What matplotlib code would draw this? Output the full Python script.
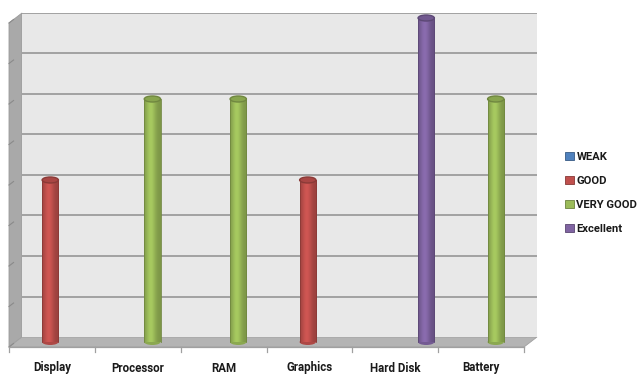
import matplotlib
matplotlib.use("Agg")
import matplotlib.pyplot as plt
import matplotlib.transforms as mtransforms
from matplotlib.patches import Polygon, Ellipse, Rectangle
import matplotlib.colors as mcolors
import numpy as np

categories = ["Display", "Processor", "RAM", "Graphics", "Hard Disk", "Battery"]
series_names = ["WEAK", "GOOD", "VERY GOOD", "Excellent"]
weak = [0, 0, 0, 0, 0, 0]
good = [4, 0, 0, 4, 0, 0]
very_good = [0, 6, 6, 0, 0, 6]
excellent = [0, 0, 0, 0, 8, 0]
series_values = [weak, good, very_good, excellent]
series_colors = ["#4F81BD", "#C0504D", "#9BBB59", "#8064A2"]

W, H = 640, 387
fig = plt.figure(figsize=(6.4, 3.87), dpi=100)
fig.patch.set_facecolor("white")

FONT = ["Roboto", "DejaVu Sans"]

# background axes in pixel coordinates for the 3D frame
bg = fig.add_axes([0, 0, 1, 1], zorder=0)
bg.set_xlim(0, W)
bg.set_ylim(H, 0)
bg.axis("off")

wall_l, wall_r, wall_t, wall_b = 22, 537, 13, 337
dx, dy = -13, 10  # depth offset (back -> front)

# side wall
side = Polygon([(wall_l, wall_t), (wall_l, wall_b), (wall_l + dx, wall_b + dy), (wall_l + dx, wall_t + dy)],
               closed=True, facecolor="#A9A9A9", edgecolor="#9A9A9A", lw=0.6)
bg.add_patch(side)
# floor
floor = Polygon([(wall_l, wall_b), (wall_r, wall_b), (wall_r + dx, wall_b + dy), (wall_l + dx, wall_b + dy)],
                closed=True, facecolor="#B4B4B4", edgecolor="#A0A0A0", lw=0.6)
bg.add_patch(floor)

# main axes = back wall
ax = fig.add_axes([wall_l / W, 1 - wall_b / H, (wall_r - wall_l) / W, (wall_b - wall_t) / H], zorder=1)
ax.set_facecolor("#E8E8E8")
for s in ax.spines.values():
    s.set_visible(False)
ax.set_xticks([])
ax.set_yticks([])
ymax = 8
ncat = len(categories)
for yv in range(1, ymax + 1):
    ax.axhline(yv, color="#A2A2A2", lw=1.4, zorder=1)

# y tick marks on side wall front edge
ppu = (wall_b - wall_t) / ymax
for k in range(0, ymax + 1):
    yb = wall_b - k * ppu
    bg.plot([wall_l + dx, wall_l + dx * 0.65], [yb + dy, yb + dy * 0.65], color="#8A8A8A", lw=0.8)

# x axis line with ticks at the front edge
fx0, fx1 = wall_l + dx, wall_r + dx
fy = wall_b + dy
bg.plot([fx0, fx1], [fy, fy], color="#A0A0A0", lw=0.9)
cw = (fx1 - fx0) / ncat
for k in range(ncat + 1):
    bg.plot([fx0 + k * cw, fx0 + k * cw], [fy, fy + 5], color="#A0A0A0", lw=0.9)
for i, c in enumerate(categories):
    bg.text(fx0 + (i + 0.5) * cw, fy + 21, c, ha="center", va="center", fontsize=8.3,
            fontweight="bold", family=FONT, color="#1A1A1A")

# bars as cylinders at mid depth
off = mtransforms.ScaledTranslation(dx / 2 / 100, -dy / 2 / 100, fig.dpi_scale_trans)
tr = ax.transData + off
width = 0.19
ell_h = 6.0 / ppu

def shade(color, n=64):
    rgb = np.array(mcolors.to_rgb(color))
    t = np.linspace(-1, 1, n)
    f = 0.80 + 0.28 * np.exp(-((t + 0.2) / 0.6) ** 2)
    img = np.clip(rgb[None, :] * f[:, None], 0, 1)
    return img[None, :, :]

for j, (name, vals, col) in enumerate(zip(series_names, series_values, series_colors)):
    xs = np.arange(ncat) + 0.5 + (j - 1.5) * width
    for xc, v in zip(xs, vals):
        if v <= 0:
            continue
        bars = ax.bar([xc], [v], width=width, color=col, transform=tr, clip_on=False, zorder=3, lw=0)
        rect = bars[0]
        im = ax.imshow(shade(col), extent=(xc - width / 2, xc + width / 2, 0, v), aspect="auto",
                       transform=tr, zorder=4, interpolation="bilinear")
        im.set_clip_path(rect)
        base = np.array(mcolors.to_rgb(col))
        dark = base * 0.72
        # bottom round
        ax.add_patch(Ellipse((xc, 0), width, ell_h, facecolor=base * 0.9, edgecolor="none",
                             transform=tr, clip_on=False, zorder=2))
        # top cap
        ax.add_patch(Ellipse((xc, v), width, ell_h, facecolor=base * 0.88,
                             edgecolor=dark, lw=1.0, transform=tr, clip_on=False, zorder=5))
        # outline sides
        ax.plot([xc - width / 2, xc - width / 2], [0, v], color=dark, lw=0.6, transform=tr, clip_on=False, zorder=5)
        ax.plot([xc + width / 2, xc + width / 2], [0, v], color=dark, lw=0.6, transform=tr, clip_on=False, zorder=5)

ax.set_xlim(0, ncat)
ax.set_ylim(0, ymax)

# legend
handles = [Rectangle((0, 0), 1, 1, facecolor=c, edgecolor=np.array(mcolors.to_rgb(c)) * 0.7, lw=0.6)
           for c in series_colors]
leg = fig.legend(handles, series_names, loc="upper left", bbox_to_anchor=(555 / W, 1 - 142 / H),
                 frameon=False, handlelength=0.75, handleheight=0.75, handletextpad=0.25,
                 labelspacing=1.24, prop={"family": FONT, "weight": "bold", "size": 8.1})
for t in leg.get_texts():
    t.set_color("#1A1A1A")

fig.savefig("out.png", dpi=100, facecolor="white")
